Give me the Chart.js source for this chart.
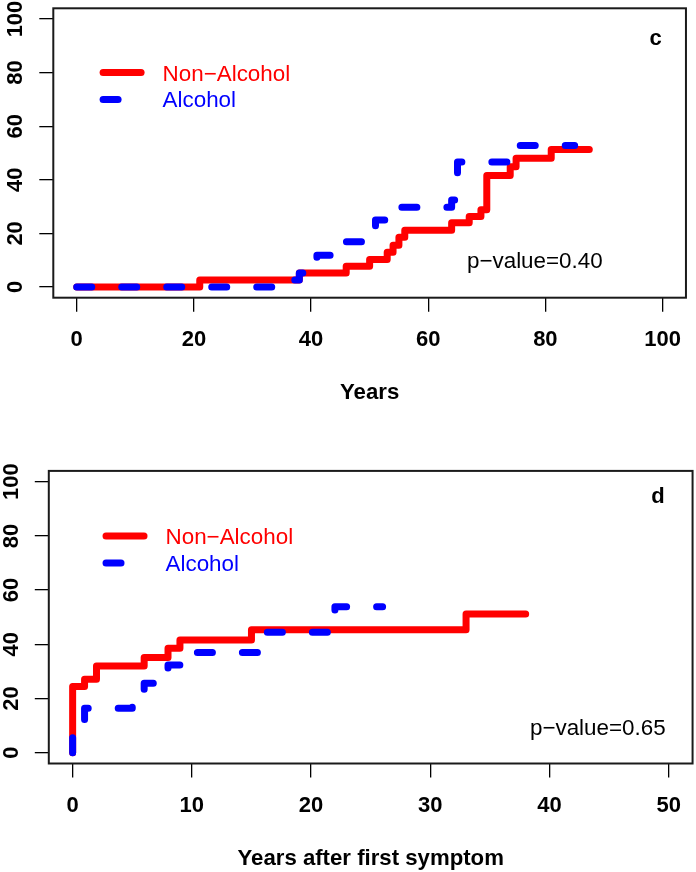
<!DOCTYPE html>
<html>
<head>
<meta charset="utf-8">
<script src="https://cdn.jsdelivr.net/npm/chart.js@4.4.1/dist/chart.umd.min.js"></script>
<style>
  html, body { margin: 0; padding: 0; background: #fff; }
  canvas { display: block; }
</style>
</head>
<body>
<canvas id="panel-c" width="696" height="436"></canvas>
<canvas id="panel-d" width="696" height="436"></canvas>
<script>
/* global Chart */

// ── Data ───────────────────────────────────────────────────────────────────

// panel c: cumulative % by age (years)
const ageTicksX   = [0, 20, 40, 60, 80, 100];
const nonAlcAge   = [0, 21, 38, 46, 50, 53, 54, 55, 56, 64, 67, 69, 70, 74, 75, 81, 87.5];
const nonAlcAgePct = [0, 2.6, 5.2, 7.7, 10.3, 13.0, 15.6, 18.6, 21.2, 24.0, 26.3, 28.8, 41.6, 44.9, 48.0, 51.3, 51.3];
const alcAge      = [0, 37, 38, 41, 46, 50, 51, 53, 64, 65, 75, 85];
const alcAgePct   = [0, 2.6, 5.2, 11.8, 16.9, 22.2, 25.0, 29.8, 32.5, 46.6, 52.8, 52.8];

// panel d: cumulative % by years after first symptom
const symTicksX   = [0, 10, 20, 30, 40, 50];
const nonAlcSym   = [0, 0, 1, 2, 6, 8, 9, 15, 33, 38];
const nonAlcSymPct = [0, 24.4, 27.1, 32.0, 35.1, 38.5, 41.6, 45.4, 51.2, 51.2];
const alcSym      = [0, 0, 1, 5, 6, 8, 9, 10, 16, 22, 26];
const alcSymPct   = [0, 10.5, 16.4, 18.1, 25.6, 32.4, 33.7, 37.0, 44.4, 53.9, 53.9];

const pctTicks    = [0, 20, 40, 60, 80, 100];
const seriesNames = ['Non\u2212Alcohol', 'Alcohol'];

// ── Helpers ────────────────────────────────────────────────────────────────

const FONT = '"Liberation Sans", Arial, Helvetica, sans-serif';
const RED  = '#ff0000';
const BLUE = '#0000ff';

const toPoints = (xs, ys) => xs.map((x, i) => ({ x, y: ys[i] }));
const fixedTicks = (vals) => (scale) => { scale.ticks = vals.map(v => ({ value: v })); };

// R-style decorations: box, rotated y labels, legend, panel letter, p-value
const kmDecor = {
  id: 'kmDecor',
  afterDatasetsDraw(chart) {
    const o = chart.options.plugins.kmDecor;
    const { ctx, chartArea: a, scales: { x, y } } = chart;
    ctx.save();

    ctx.strokeStyle = '#1a1a1a';
    ctx.lineWidth = 2;
    ctx.strokeRect(a.left, a.top, a.right - a.left, a.bottom - a.top);

    ctx.fillStyle = '#000';
    ctx.font = `bold 22px ${FONT}`;
    ctx.textAlign = 'center';
    ctx.textBaseline = 'alphabetic';
    y.ticks.forEach(t => {
      ctx.save();
      ctx.translate(a.left - 31, y.getPixelForValue(t.value));
      ctx.rotate(-Math.PI / 2);
      ctx.fillText(String(t.value), 0, 0);
      ctx.restore();
    });

    ctx.fillText(o.letter, x.getPixelForValue(o.letterAt[0]), y.getPixelForValue(o.letterAt[1]));

    ctx.font = `22.4px ${FONT}`;
    ctx.fillText(o.pText, x.getPixelForValue(o.pAt[0]), y.getPixelForValue(o.pAt[1]));

    // legend
    const lx = x.getPixelForValue(o.legendAt[0]);
    chart.data.datasets.forEach((ds, i) => {
      const ly = y.getPixelForValue(o.legendAt[1 + i]);
      ctx.strokeStyle = ds.borderColor;
      ctx.lineWidth = ds.borderWidth;
      ctx.lineCap = 'round';
      ctx.setLineDash(ds.borderDash || []);
      ctx.beginPath();
      ctx.moveTo(lx, ly);
      ctx.lineTo(lx + 38, ly);
      ctx.stroke();
      ctx.setLineDash([]);
      ctx.fillStyle = ds.borderColor;
      ctx.textAlign = 'left';
      ctx.fillText(ds.label, lx + 59.5, ly + 8);
    });

    ctx.restore();
  },
};

function kmChart(canvasId, cfg) {
  return new Chart(document.getElementById(canvasId), {
    type: 'line',
    data: {
      datasets: [
        {
          label: seriesNames[0], data: cfg.red, order: 1,
          borderColor: RED, borderWidth: 7, stepped: true,
          borderCapStyle: 'round', borderJoinStyle: 'round', pointRadius: 0,
        },
        {
          label: seriesNames[1], data: cfg.blue, order: 0,
          borderColor: BLUE, borderWidth: 7, stepped: true, borderDash: [15, 30],
          borderCapStyle: 'round', borderJoinStyle: 'round', pointRadius: 0,
        },
      ],
    },
    options: {
      responsive: false,
      animation: false,
      events: [],
      layout: { padding: cfg.padding },
      plugins: {
        legend: { display: false },
        tooltip: { enabled: false },
        kmDecor: cfg.decor,
      },
      scales: {
        x: {
          type: 'linear',
          min: cfg.xMin, max: cfg.xMax,
          afterBuildTicks: fixedTicks(cfg.xTicks),
          afterFit: (s) => { s.height = cfg.xHeight; },
          border: { display: false },
          grid: { drawOnChartArea: false, tickLength: 14, color: '#000', lineWidth: 1.3 },
          ticks: {
            color: '#000', padding: cfg.tickPad, maxRotation: 0, autoSkip: false,
            font: { family: FONT, size: 22, weight: 'bold' },
          },
          title: {
            display: true, text: cfg.xTitle, color: '#000',
            font: { family: FONT, size: 22.2, weight: 'bold', lineHeight: 1.2 },
            padding: { top: 0, bottom: cfg.titlePad },
          },
        },
        y: {
          min: -4, max: 104,
          afterBuildTicks: fixedTicks(pctTicks),
          afterFit: (s) => { s.width = cfg.yWidth; },
          border: { display: false },
          grid: { drawOnChartArea: false, tickLength: 14, color: '#000', lineWidth: 1.3 },
          ticks: { display: false },
        },
      },
    },
    plugins: [kmDecor],
  });
}

// ── Panels ─────────────────────────────────────────────────────────────────

kmChart('panel-c', {
  red: toPoints(nonAlcAge, nonAlcAgePct),
  blue: toPoints(alcAge, alcAgePct),
  xMin: -4, xMax: 104, xTicks: ageTicksX, xTitle: 'Years',
  padding: { left: 0, top: 8.3, right: 3.3, bottom: 0 },
  yWidth: 53.3, xHeight: 138.3, tickPad: 15, titlePad: 29.5,
  decor: {
    letter: 'c', letterAt: [98.8, 90.3],
    pText: 'p\u2212value=0.40', pAt: [78.2, 7.1],
    legendAt: [4.5, 80, 70],
  },
});

kmChart('panel-d', {
  red: toPoints(nonAlcSym, nonAlcSymPct),
  blue: toPoints(alcSym, alcSymPct),
  xMin: -2, xMax: 52, xTicks: symTicksX, xTitle: 'Years after first symptom',
  padding: { left: 0, top: 34.9, right: 1.1, bottom: 0 },
  yWidth: 48.8, xHeight: 108.5, tickPad: 15, titlePad: 0,
  decor: {
    letter: 'd', letterAt: [49.1, 92.1],
    pText: 'p\u2212value=0.65', pAt: [44.05, 6.5],
    legendAt: [2.8, 80, 70],
  },
});
</script>
</body>
</html>
